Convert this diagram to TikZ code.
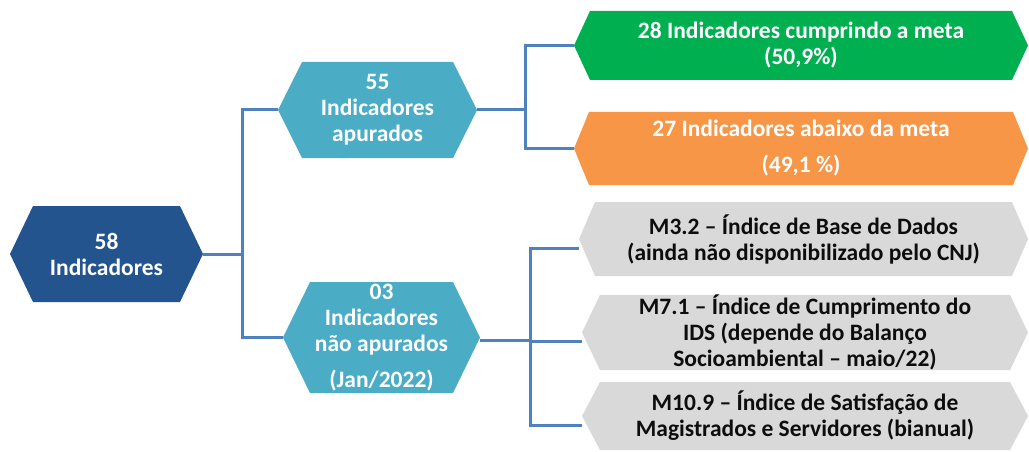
\documentclass[tikz,border=0pt]{standalone}
\usepackage{fontspec}
\setmainfont{Carlito}
\definecolor{cdark}{HTML}{24548E}
\definecolor{cteal}{HTML}{4BACC6}
\definecolor{cgreen}{HTML}{00B050}
\definecolor{corange}{HTML}{F79646}
\definecolor{cgrey}{HTML}{D9D9D9}
\definecolor{cline}{HTML}{4F81BD}
\definecolor{ctext}{HTML}{0D0D0D}
\begin{document}
\begin{tikzpicture}[x=1pt,y=-1pt,
  box/.style={inner sep=0pt,outer sep=0pt,align=center,
    font=\fontsize{23.5}{26}\selectfont\bfseries},
  hexfill/.style 2 args={path picture={
    \fill[#1] (path picture bounding box.west)
      -- ([xshift=#2pt]path picture bounding box.north west)
      -- ([xshift=-#2pt]path picture bounding box.north east)
      -- (path picture bounding box.east)
      -- ([xshift=-#2pt]path picture bounding box.south east)
      -- ([xshift=#2pt]path picture bounding box.south west)
      -- cycle;}},
  conn/.style={draw=cline,line width=3pt}]
\clip (0,0) rectangle (1029,452);
\fill[white] (0,0) rectangle (1029,452);

\node[box,text=white,minimum width=193pt,minimum height=96pt,hexfill={cdark}{23}] (n58) at (106.5,254) {58\\Indicadores};
\node[box,text=white,minimum width=199pt,minimum height=96pt,hexfill={cteal}{24}] (n55) at (377.5,110) {55\\Indicadores\\apurados};
\node[box,text=white,minimum width=197pt,minimum height=111pt,hexfill={cteal}{27}] (n03) at (381.5,337.5) {03\\Indicadores\\não apurados\\[10pt](Jan/2022)};

\node[box,text=white,minimum width=454pt,minimum height=69pt,hexfill={cgreen}{16}] (ok) at (801,45.5) {28 Indicadores cumprindo a meta\\(50,9\%)};
\node[box,text=white,minimum width=454pt,minimum height=73pt,hexfill={corange}{15}] (below) at (801,148.5) {27 Indicadores abaixo da meta\\[10pt](49,1 \%)};

\node[box,text=ctext,minimum width=449pt,minimum height=74pt,hexfill={cgrey}{16}] (g1) at (803.5,239) {M3.2 – Índice de Base de Dados\\(ainda não disponibilizado pelo CNJ)};
\node[box,text=ctext,minimum width=446pt,minimum height=75pt,hexfill={cgrey}{18}] (g2) at (805,332.5) {M7.1 – Índice de Cumprimento do\\IDS (depende do Balanço\\Socioambiental – maio/22)};
\node[box,text=ctext,minimum width=446pt,minimum height=68pt,hexfill={cgrey}{18}] (g3) at (805,416) {M10.9 – Índice de Satisfação de\\Magistrados e Servidores (bianual)};

\draw[conn] (n58.east) -- ++(39,0) |- (n55.west);
\draw[conn] (n58.east) -- ++(39,0) |- (n03.west);
\draw[conn] (n55.east) -- ++(48,0) |- (ok.west);
\draw[conn] (n55.east) -- ++(48,0) |- (below.west);
\draw[conn] ([yshift=-3pt]n03.east) -- ++(50,0) |- ([yshift=-9pt]g1.west);
\draw[conn] ([yshift=-3pt]n03.east) -- ++(50,0) |- ([yshift=-9pt]g2.west);
\draw[conn] ([yshift=-3pt]n03.east) -- ++(50,0) |- ([yshift=-9pt]g3.west);
\end{tikzpicture}
\end{document}
